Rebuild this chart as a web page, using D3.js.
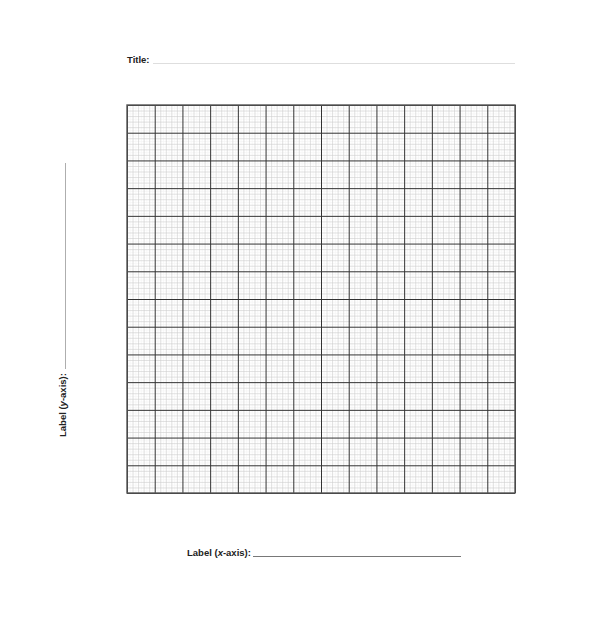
<!DOCTYPE html>
<html>
<head>
<meta charset="utf-8">
<script src="https://cdn.jsdelivr.net/npm/d3@7"></script>
<style>
  body { margin: 0; background: #fff; }
  text { font-family: "Liberation Sans", Arial, sans-serif; font-weight: bold; font-size: 9.5px; fill: #222; }
</style>
</head>
<body>
<div id="chart"></div>
<script>
// blank graph paper: 14 x 14 big squares, each split in 10
var xDomain = [0, 14];
var yDomain = [0, 14];
var majorCount = 14;
var minorPerMajor = 10;
var titleText = "Title:";
var xLabelParts = ["Label (", "x", "-axis):"];
var yLabelParts = ["Label (", "y", "-axis):"];

var svgWidth = 592;
var svgHeight = 622;

var margin = { top: 105, right: 77, bottom: 129, left: 127 };
var width = svgWidth - margin.left - margin.right;
var height = svgHeight - margin.top - margin.bottom;

var svg = d3.select("#chart")
  .append("svg")
  .attr("width", svgWidth)
  .attr("height", svgHeight);

var chartGroup = svg.append("g")
  .attr("transform", `translate(${margin.left}, ${margin.top})`);

var xScale = d3.scaleLinear().domain(xDomain).range([0, width]);
var yScale = d3.scaleLinear().domain(yDomain).range([height, 0]);

var minorTicks = d3.range(0, majorCount * minorPerMajor + 1).map(d => d / minorPerMajor);
var lightTicks = minorTicks.filter((d, i) => i % 2 == 1);
var midTicks = minorTicks.filter((d, i) => i % 2 == 0 && i % minorPerMajor != 0);
var majorTicks = d3.range(0, majorCount + 1);

// draw one layer of grid lines with axes
function gridLayer(ticks, color, strokeW) {
  var gx = chartGroup.append("g")
    .attr("transform", `translate(0, ${height})`)
    .call(d3.axisBottom(xScale).tickValues(ticks).tickSize(-height).tickFormat(""));
  var gy = chartGroup.append("g")
    .call(d3.axisLeft(yScale).tickValues(ticks).tickSize(-width).tickFormat(""));
  [gx, gy].forEach(function(g) {
    g.select(".domain").remove();
    g.selectAll(".tick line")
      .attr("stroke", color)
      .attr("stroke-width", strokeW);
  });
}

gridLayer(lightTicks, "#f3f3f3", 0.6);
gridLayer(midTicks, "#cdcdcd", 0.6);
gridLayer(majorTicks, "#333", 1);

// outer frame
chartGroup.append("rect")
  .attr("x", 0)
  .attr("y", 0)
  .attr("width", width)
  .attr("height", height)
  .attr("fill", "none")
  .attr("stroke", "#555")
  .attr("stroke-width", 1.4);

// title
svg.append("text")
  .attr("x", margin.left)
  .attr("y", 63)
  .text(titleText);
svg.append("line")
  .attr("x1", 153).attr("x2", margin.left + width)
  .attr("y1", 63.5).attr("y2", 63.5)
  .attr("stroke", "#d5d5d5")
  .attr("stroke-width", 0.8);

// x label
var xl = svg.append("text")
  .attr("x", 187)
  .attr("y", 556);
xl.append("tspan").text(xLabelParts[0]);
xl.append("tspan").style("font-style", "italic").text(xLabelParts[1]);
xl.append("tspan").text(xLabelParts[2]);
svg.append("line")
  .attr("x1", 253).attr("x2", 461)
  .attr("y1", 556.5).attr("y2", 556.5)
  .attr("stroke", "#555")
  .attr("stroke-width", 0.8);

// y label
var yl = svg.append("text")
  .attr("transform", "translate(66, 437) rotate(-90)");
yl.append("tspan").text(yLabelParts[0]);
yl.append("tspan").style("font-style", "italic").text(yLabelParts[1]);
yl.append("tspan").text(yLabelParts[2]);
svg.append("line")
  .attr("x1", 65.5).attr("x2", 65.5)
  .attr("y1", 163).attr("y2", 369)
  .attr("stroke", "#999")
  .attr("stroke-width", 0.8);
</script>
</body>
</html>
